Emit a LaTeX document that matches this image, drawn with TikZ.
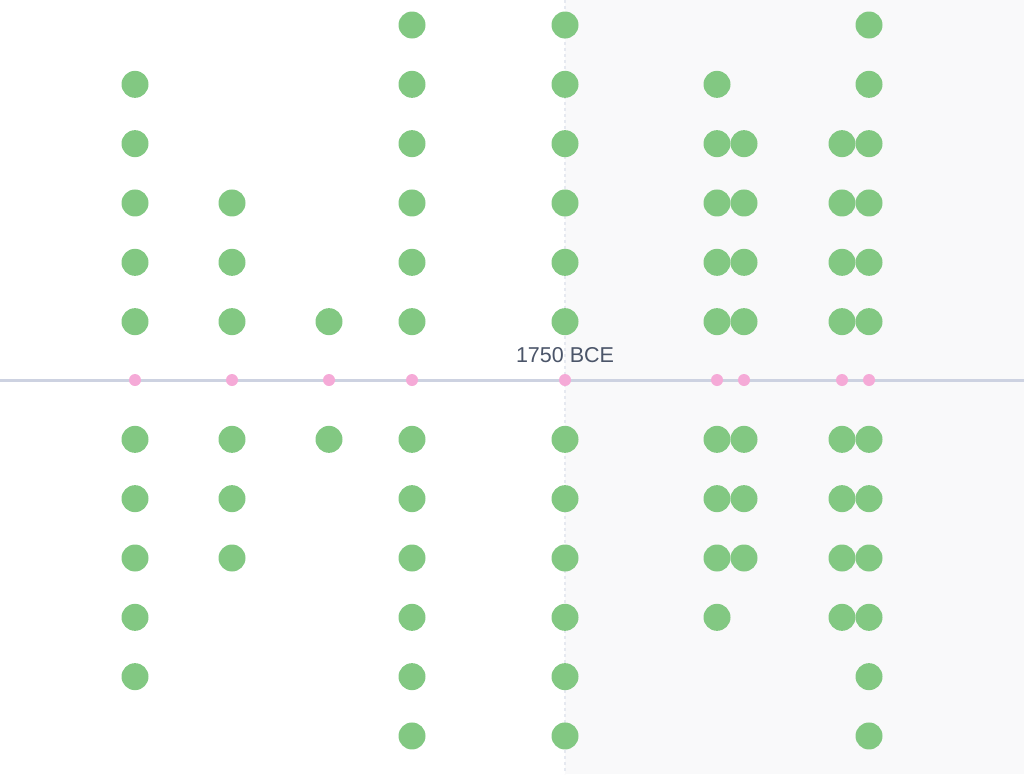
\documentclass[tikz,border=0pt]{standalone}
\usepackage{fontspec}
\setmainfont{Liberation Sans}
\definecolor{dotgreen}{RGB}{130,200,130}
\definecolor{dotpink}{RGB}{245,170,215}
\definecolor{axisgray}{RGB}{205,210,225}
\definecolor{bgshade}{RGB}{249,249,250}
\definecolor{labelgray}{RGB}{75,85,105}
\tikzset{
  dot/.style={fill=dotgreen},
  tick/.style={fill=dotpink},
}
\begin{document}
\begin{tikzpicture}[x=1pt,y=1pt,yscale=-1]
\useasboundingbox (0,0) rectangle (1024,774);
%shaded right half
\fill[bgshade] (565,0) rectangle (1024,774);
%dashed marker
\draw[axisgray!50,dashed,line width=1.2] (565,0) -- (565,774);
%axis
\draw[axisgray,line width=3] (0,380) -- (1024,380);
%columns: x / top row / bottom row
\foreach \x/\a/\b in {135/1/5, 232/3/3, 329/5/1, 412/0/6, 565/0/6, 717/1/4, 744/2/3, 842/2/4, 869/0/6}{
  \foreach \i in {\a,...,5}{
    \fill[dot] (\x,25+59.33*\i) circle (13.5);
  }
  \foreach \i in {1,...,\b}{
    \fill[dot] (\x,380+59.33*\i) circle (13.5);
  }
  \fill[tick] (\x,380) circle (6);
}
% Text Node
\node[text=labelgray,font=\fontsize{21.5}{26}\selectfont] (year) at (565,355) {1750 BCE};
\end{tikzpicture}
\end{document}
